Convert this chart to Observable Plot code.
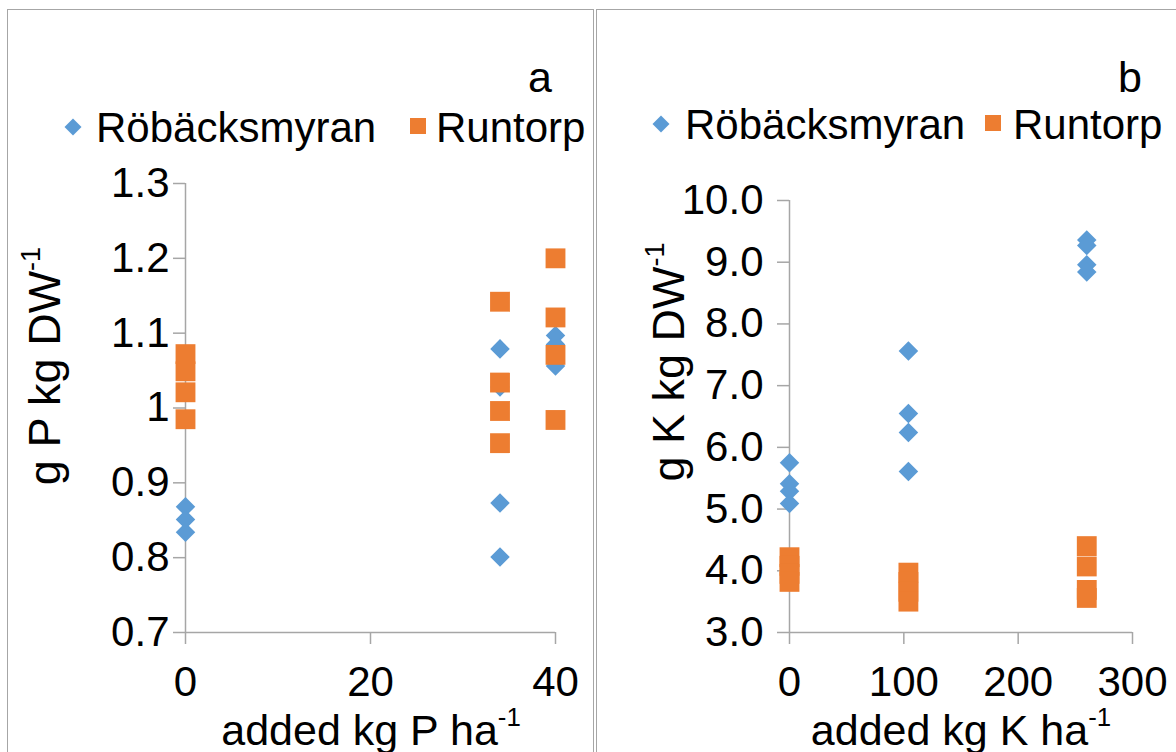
<!DOCTYPE html>
<html>
<head>
<meta charset="utf-8">
<script src="https://cdn.jsdelivr.net/npm/d3@7"></script>
<script src="https://cdn.jsdelivr.net/npm/@observablehq/plot@0.6"></script>
<style>
  html, body { margin: 0; padding: 0; background: #fff; }
  body { width: 1176px; height: 752px; position: relative; overflow: hidden; font-family: "Liberation Sans", Arial, sans-serif; color: #000; }
  .frame { position: absolute; border: 1.5px solid #a6a6a6; box-sizing: border-box; }
  .abs { position: absolute; white-space: nowrap; line-height: 1; }
  .plot { position: absolute; top: 0; }
  sup { font-size: 60%; vertical-align: 0; position: relative; top: -0.75em; }
  .dia { display: inline-block; width: 12px; height: 12px; background: #5B9BD5; transform: rotate(45deg); }
  .sq { display: inline-block; width: 16px; height: 16px; background: #ED7D31; }
</style>
</head>
<body>
<div class="frame" style="left:7px; top:9px; width:587px; height:800px;"></div>
<div class="frame" style="left:596px; top:9px; width:600px; height:800px;"></div>
<div id="pa" class="plot" style="left:0px;"></div>
<div id="pb" class="plot" style="left:597px;"></div>

<div class="abs" style="left:528px; top:56px; font-size:43px;">a</div>
<div class="abs" style="left:1118px; top:56px; font-size:43px;">b</div>

<div class="abs" style="left:67px; top:120px;"><span class="dia"></span></div>
<div class="abs" style="left:96px; top:107px; font-size:42px;">Röbäcksmyran</div>
<div class="abs" style="left:410px; top:118px;"><span class="sq"></span></div>
<div class="abs" style="left:436px; top:107px; font-size:42px;">Runtorp</div>

<div class="abs" style="left:655px; top:117px;"><span class="dia"></span></div>
<div class="abs" style="left:685px; top:104px; font-size:42px;">Röbäcksmyran</div>
<div class="abs" style="left:985px; top:115px;"><span class="sq"></span></div>
<div class="abs" style="left:1013px; top:104px; font-size:42px;">Runtorp</div>

<div class="abs" style="left:371px; top:709px; font-size:43px; transform:translateX(-50%);">added kg P ha<sup>-1</sup></div>
<div class="abs" style="left:961px; top:709px; font-size:43px; transform:translateX(-50%);">added kg K ha<sup>-1</sup></div>
<div class="abs" style="left:44px; top:366px; font-size:45px; transform:translate(-50%,-50%) rotate(-90deg);">g P kg DW<sup>-1</sup></div>
<div class="abs" style="left:668px; top:362px; font-size:45px; transform:translate(-50%,-50%) rotate(-90deg);">g K kg DW<sup>-1</sup></div>

<script>
// ---- Panel a data (P) ----
const pRobX = [0, 0, 0, 34, 34, 34, 34, 40, 40, 40];
const pRobY = [0.868, 0.851, 0.834, 1.079, 1.028, 0.873, 0.801, 1.097, 1.085, 1.056];
const pRunX = [0, 0, 0, 0, 34, 34, 34, 34, 40, 40, 40, 40];
const pRunY = [1.072, 1.049, 1.021, 0.985, 1.142, 1.034, 0.996, 0.953, 1.200, 1.121, 1.071, 0.984];
const pXTicks = [0, 20, 40];
const pYTicks = [0.7, 0.8, 0.9, 1.0, 1.1, 1.2, 1.3];
const pYLabels = ["0.7", "0.8", "0.9", "1", "1.1", "1.2", "1.3"];

// ---- Panel b data (K) ----
const kRobX = [0, 0, 0, 0, 104, 104, 104, 104, 260, 260, 260, 260];
const kRobY = [5.75, 5.41, 5.29, 5.09, 7.56, 6.55, 6.24, 5.61, 9.36, 9.27, 8.96, 8.84];
const kRunX = [0, 0, 0, 0, 104, 104, 104, 104, 260, 260, 260, 260];
const kRunY = [4.22, 4.08, 3.95, 3.82, 3.97, 3.82, 3.66, 3.50, 4.40, 4.07, 3.69, 3.56];
const kXTicks = [0, 100, 200, 300];
const kYTicks = [3, 4, 5, 6, 7, 8, 9, 10];
const kYLabels = ["3.0", "4.0", "5.0", "6.0", "7.0", "8.0", "9.0", "10.0"];

const BLUE = "#5B9BD5", ORANGE = "#ED7D31", AXIS = "#a6a6a6";
const rows = (xs, ys) => xs.map((x, i) => ({x, y: ys[i]}));

function panel({width, ml, mr, mt, mb, xDomain, yDomain, xTicks, yTicks, yLabels, yPad, rob, run}) {
  return Plot.plot({
    width, height: 752,
    marginLeft: ml, marginRight: mr, marginTop: mt, marginBottom: mb,
    style: {fontFamily: "Liberation Sans, Arial, sans-serif", fontSize: "42px", color: "#000", background: "transparent", overflow: "visible"},
    x: {domain: xDomain},
    y: {domain: yDomain},
    marks: [
      Plot.ruleX([xDomain[0]], {stroke: AXIS, strokeWidth: 1.5}),
      Plot.ruleY([yDomain[0]], {stroke: AXIS, strokeWidth: 1.5}),
      Plot.axisY({ticks: yTicks, tickSize: 12, tickPadding: yPad, stroke: AXIS, fill: "#000",
        tickFormat: (d) => yLabels[yTicks.indexOf(d)], label: null, strokeWidth: 1.5}),
      Plot.axisX({ticks: xTicks, tickSize: 12, tickPadding: 22, stroke: AXIS, fill: "#000",
        tickFormat: (d) => String(d), label: null, strokeWidth: 1.5}),
      Plot.dot(rob, {x: "x", y: "y", symbol: "diamond2", r: 8.8, fill: BLUE, stroke: "none"}),
      Plot.dot(run, {x: "x", y: "y", symbol: "square", r: 11.2, fill: ORANGE, stroke: "none"})
    ]
  });
}

document.getElementById("pa").append(panel({
  width: 595, ml: 185, mr: 40, mt: 183, mb: 120,
  xDomain: [0, 40], yDomain: [0.7, 1.3],
  xTicks: pXTicks, yTicks: pYTicks, yLabels: pYLabels, yPad: 4,
  rob: rows(pRobX, pRobY), run: rows(pRunX, pRunY)
}));

document.getElementById("pb").append(panel({
  width: 579, ml: 192, mr: 44, mt: 200, mb: 120,
  xDomain: [0, 300], yDomain: [3, 10],
  xTicks: kXTicks, yTicks: kYTicks, yLabels: kYLabels, yPad: 14,
  rob: rows(kRobX, kRobY), run: rows(kRunX, kRunY)
}));
</script>
</body>
</html>
